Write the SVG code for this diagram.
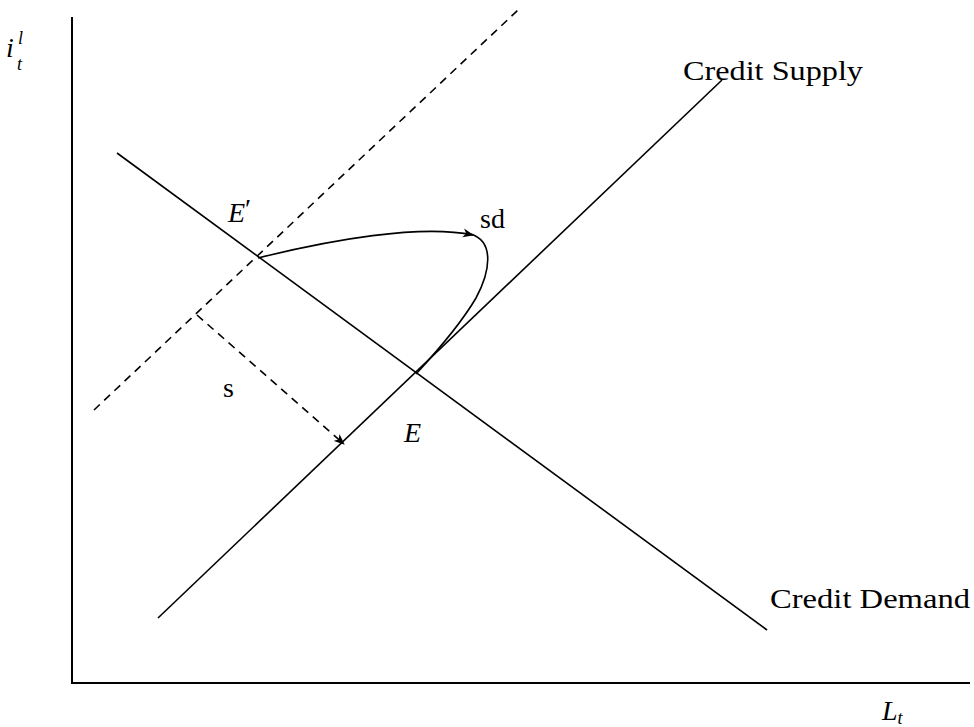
<svg xmlns="http://www.w3.org/2000/svg" width="974" height="727" viewBox="0 0 974 727">
<defs>
<marker id="ah" markerWidth="12" markerHeight="10" refX="10" refY="5" orient="auto" markerUnits="userSpaceOnUse">
<path d="M0,0.5 L11,5 L0,9.5 L3,5 Z" fill="#000"/>
</marker>
<style>
.ln{stroke:#000;stroke-width:1.6;fill:none}
.ax{stroke:#000;stroke-width:2;fill:none}
.ds{stroke:#000;stroke-width:1.6;fill:none;stroke-dasharray:8 6}
.t{font-family:"Liberation Serif","DejaVu Serif",serif;font-size:28px;fill:#000}
.it{font-style:italic}
.sm{font-size:18px}
</style>
</defs>
<rect width="974" height="727" fill="#fff"/>
<g id="axes">
<line class="ax" x1="72" y1="17" x2="72" y2="684"/>
<line class="ax" x1="71" y1="683" x2="970" y2="683"/>
</g>
<g id="supply">
<line class="ln" x1="158" y1="618" x2="722" y2="80"/>
<text class="t" x="683" y="80" textLength="180" lengthAdjust="spacingAndGlyphs">Credit Supply</text>
</g>
<g id="demand">
<line class="ln" x1="117" y1="153" x2="767" y2="630"/>
<text class="t" x="770" y="608" textLength="200" lengthAdjust="spacingAndGlyphs">Credit Demand</text>
</g>
<g id="shifted-supply">
<line class="ds" x1="94" y1="410" x2="518" y2="10"/>
</g>
<g id="connectors">
<path class="ln" d="M258,258 C330,240 420,224 473,235" marker-end="url(#ah)"/>
<path class="ln" d="M471,234 C495,242 490,272 476,298 C462,322 440,348 416,374"/>
<line class="ds" x1="197" y1="315" x2="344" y2="444" marker-end="url(#ah)"/>
</g>
<g id="labels">
<text class="t it" x="228" y="222">E<tspan font-style="normal" dy="-4">′</tspan></text>
<text class="t" x="480" y="228">sd</text>
<text class="t" x="223" y="397">s</text>
<text class="t it" x="404" y="442">E</text>
<text class="t it" x="882" y="720">L<tspan class="sm" dy="4">t</tspan></text>
<text class="t it" x="6" y="57">i</text>
<text class="t it sm" x="18" y="44">l</text>
<text class="t it sm" x="17" y="70">t</text>
</g>
</svg>
